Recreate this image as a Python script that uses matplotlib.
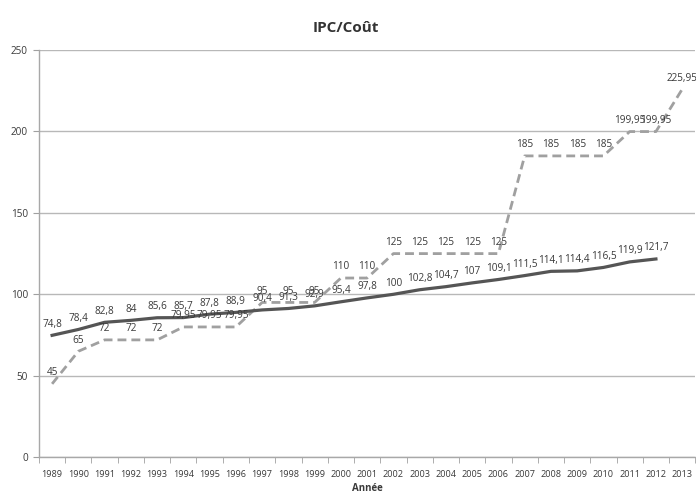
import matplotlib.pyplot as plt
from matplotlib.ticker import FixedLocator

plt.rcParams['font.family'] = ['Open Sans', 'DejaVu Sans']

years = [str(y) for y in range(1989, 2014)]
ipc = [74.8, 78.4, 82.8, 84, 85.6, 85.7, 87.8, 88.9, 90.4, 91.3, 92.9, 95.4,
       97.8, 100, 102.8, 104.7, 107, 109.1, 111.5, 114.1, 114.4, 116.5, 119.9, 121.7]
cout = [45, 65, 72, 72, 72, 79.95, 79.95, 79.95, 95, 95, 95, 110, 110, 125, 125,
        125, 125, 125, 185, 185, 185, 185, 199.95, 199.95, 225.95]


def fmt(v):
    s = ('%.2f' % v).rstrip('0').rstrip('.')
    return s.replace('.', ',')


fig = plt.figure(figsize=(6.96, 4.91), dpi=100)
ax = fig.add_axes([0.056, 0.069, 0.943, 0.829])

x_ipc = list(range(len(ipc)))
x_cout = list(range(len(cout)))
ax.plot(x_cout, cout, color='#a0a0a0', lw=2.0, ls=(0, (3.2, 1.8)), zorder=3)
ax.plot(x_ipc, ipc, color='#555555', lw=2.3, zorder=4)

for x, v in zip(x_ipc, ipc):
    ax.annotate(fmt(v), (x, v), xytext=(0, 4), textcoords='offset points',
                ha='center', va='bottom', fontsize=7.2, color='#3a3a3a', zorder=5)
for x, v in zip(x_cout, cout):
    ax.annotate(fmt(v), (x, v), xytext=(0, 4), textcoords='offset points',
                ha='center', va='bottom', fontsize=7.2, color='#3a3a3a', zorder=5)

ax.set_xlim(-0.5, len(years) - 0.5)
ax.set_ylim(0, 250)
ax.set_yticks([0, 50, 100, 150, 200, 250])
ax.yaxis.grid(True, color='#b8b8b8', lw=1.0)
ax.set_axisbelow(True)

ax.set_xticks(range(len(years)))
ax.set_xticklabels(years, fontsize=6.6, color='#3a3a3a')
ax.xaxis.set_minor_locator(FixedLocator([i - 0.5 for i in range(len(years) + 1)]))
ax.tick_params(axis='x', which='major', length=0, pad=9)
ax.tick_params(axis='x', which='minor', length=4, color='#a0a0a0')
ax.tick_params(axis='y', length=4, color='#a0a0a0', labelsize=7.2, labelcolor='#3a3a3a', pad=4)

for side in ['top', 'right']:
    ax.spines[side].set_visible(False)
for side in ['left', 'bottom']:
    ax.spines[side].set_color('#a8a8a8')
    ax.spines[side].set_linewidth(1.0)

ax.set_xlabel('Année', fontsize=7, fontweight='bold', color='#3a3a3a', labelpad=3)
fig.text(0.497, 0.942, 'IPC/Coût', ha='center', va='center', fontsize=11,
         fontweight='bold', color='#333333')

fig.savefig('out.png', dpi=100)
